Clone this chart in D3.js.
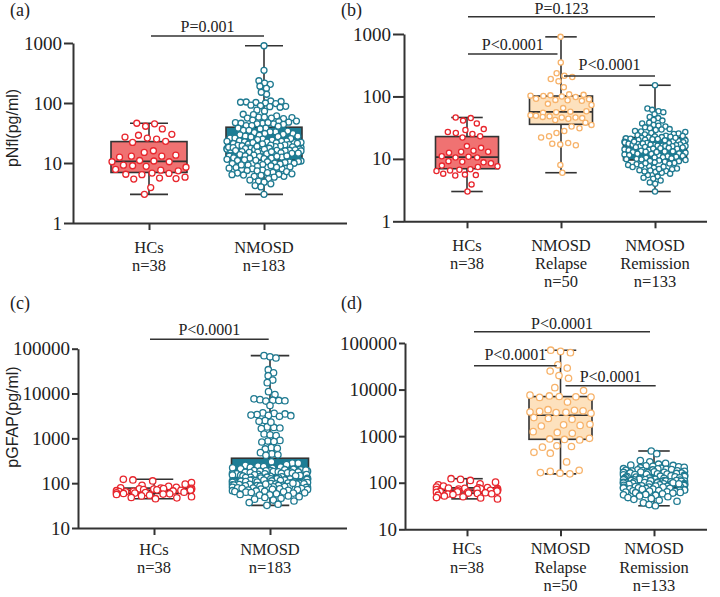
<!DOCTYPE html>
<html>
<head>
<meta charset="utf-8">
<script src="https://cdn.jsdelivr.net/npm/d3@7"></script>
<style>
  body { margin: 0; background: #fff; }
  svg { display: block; }
</style>
</head>
<body>
<div id="chart"></div>
<script>
// ---- data (pg/ml) ----
const nflHC = [46, 45, 41, 37, 30, 29, 27, 26, 25, 23, 22, 16, 15, 13.5, 13, 13, 12.5, 11, 10.8, 10.5,
  10.5, 9.2, 9, 8.8, 8.5, 7.8, 7.6, 7.4, 6.8, 6.7, 6.5, 6.4, 5.8, 5.6, 5.5, 5.4, 3.9, 3.0];

const nflRelapse = [900, 350, 235, 215, 205, 190, 175, 140, 108, 106, 104, 103, 102, 100, 98, 92, 90,
  88, 87, 85, 76, 73, 65, 58, 57, 56, 55, 50, 49, 48, 47, 46, 46, 45, 44, 42, 38, 35, 33, 31, 28, 26,
  23, 22, 18, 17.5, 17, 16.5, 8, 6];

const nflRemission = [151, 64, 61, 58, 56, 52, 47, 45, 42, 41, 38, 37, 35, 34, 33, 32, 31, 30, 29.5, 29,
  28, 27.5, 27, 26, 25.5, 25, 24.6, 24, 23.5, 23.2, 22.9, 22.6, 22.3,
  22, 21.6, 21.3, 21, 20.6, 20.3, 20, 19.7, 19.4, 19.1, 18.8, 18.5, 18.3, 18, 17.8, 17.5, 17.3, 17,
  16.8, 16.7, 16.5, 16.3, 16.1, 16, 15.9, 15.8, 21.8, 20.8, 19.8, 18.9, 17.6, 16.9, 16.2,
  15.5, 15.2, 15, 14.8, 14.5, 14.2, 14, 13.8, 13.5, 13.2, 13, 12.8, 12.5, 12.2, 12, 11.8, 11.5, 11.3,
  11, 10.8, 10.6, 10.4, 10.2, 10, 9.9, 9.8, 14.6, 13.1, 12.1, 11.1, 10.5, 15.4, 12.9,
  9.6, 9.4, 9.2, 9, 8.8, 8.6, 8.4, 8.2, 8, 7.8, 7.6, 7.4, 7.2, 7, 6.8, 6.6, 6.5, 6.4, 6.2, 6, 5.8,
  5.5, 5.2, 5, 4.8, 4.5, 4.2, 3.0, 9.3, 8.5, 7.5, 6.9, 6.3, 4.0];

const gfapHC = [122, 118, 112, 103, 95, 90, 85, 81, 79, 78, 77, 76, 75, 74, 73, 72, 71, 70, 69, 68,
  67, 66, 65, 64, 63, 62, 61, 60, 59, 58, 57, 56, 54, 52, 50, 48, 47, 45];

const gfapRelapse = [70000, 66000, 62000, 34000, 29000, 25000, 20000, 17500, 11000, 9500, 7600, 7300,
  7100, 7000, 6900, 6800, 5400, 3700, 3600, 3500, 3400, 3300, 3250, 3200, 3100, 2500, 2400, 1800,
  1750, 1700, 1650, 1250, 1200, 1150, 900, 870, 850, 830, 620, 600, 580, 450, 430, 280, 185, 175,
  165, 160, 155, 2300];

const gfapRemission = [480, 420, 300, 280, 260, 250, 240, 235, 230, 225, 220, 215, 210, 205, 200, 198,
  195, 192, 190, 188, 185, 182, 180, 178, 176, 174, 172, 170, 168, 166, 164, 162, 161,
  158, 156, 154, 152, 150, 148, 146, 144, 142, 140, 138, 136, 135, 134, 132, 130, 128, 126, 125, 124,
  122, 120, 119, 118, 117, 116, 115, 114, 113, 112, 111, 110.5, 110,
  109, 108, 107, 106, 105, 104, 103, 102, 101, 100, 99, 98, 97, 96, 95, 94, 93, 92, 91, 90, 89, 88,
  87, 86, 85, 84, 83, 82, 81, 80.5, 80, 100, 95,
  79, 78, 77, 76, 75, 74, 73, 72, 71, 70, 69, 68, 67, 66, 65, 64, 63, 62, 61, 60, 58, 56, 55, 54, 52,
  50, 48, 46, 44, 42, 40, 37, 34, 32];

const nflTicks = [1, 10, 100, 1000];
const gfapTicks = [10, 100, 1000, 10000, 100000];

const labels2 = [["HCs", "n=38"], ["NMOSD", "n=183"]];
const labels3 = [["HCs", "n=38"], ["NMOSD", "Relapse", "n=50"], ["NMOSD", "Remission", "n=133"]];

const compA = [{ pair: [0, 1], label: "P=0.001" }];
const compB = [{ pair: [0, 2], label: "P=0.123" }, { pair: [0, 1], label: "P<0.0001" }, { pair: [1, 2], label: "P<0.0001" }];
const compC = [{ pair: [0, 1], label: "P<0.0001" }];
const compD = [{ pair: [0, 2], label: "P<0.0001" }, { pair: [0, 1], label: "P<0.0001" }, { pair: [1, 2], label: "P<0.0001" }];

// ---- styles ----
const SERIF = "Liberation Serif, Times New Roman, serif";
const SANS = "Liberation Sans, Arial, sans-serif";
const INK = "#333";
const hcStyle = { fill: "#f07272", stroke: "#e8262d" };
const tealStyle = { fill: "#1c7d95", stroke: "#1f7a91" };
const relapseStyle = { fill: "#fde1bd", stroke: "#f7b36b" };

const svg = d3.select("#chart").append("svg")
  .attr("width", 720)
  .attr("height", 597);

svg.append("rect").attr("width", 720).attr("height", 597).attr("fill", "#fff");

// layout of each panel
let panels = [
  { letter: "(a)", lx: 10, ly: 16, title: "pNfl(pg/ml)", tx: 18, ty: 128,
    x0: 73, x1: 347, yTop: 43, yBot: 223, domain: [1, 1000], ticks: nflTicks, tickLen: 9,
    cx: [149, 264], boxW: 76, r: 3,
    groups: [nflHC, nflRelapse.concat(nflRemission)], styles: [hcStyle, tealStyle], labels: labels2,
    catY: 30, comps: compA, sig: [[36, 2, 0, 4.5]] },
  { letter: "(b)", lx: 341, ly: 16,
    x0: 404, x1: 707, yTop: 34, yBot: 221.3, domain: [1, 1000], ticks: nflTicks, tickLen: 11,
    cx: [467, 655], boxW: 63, r: 2.6,
    groups: [nflHC, nflRelapse, nflRemission], styles: [hcStyle, relapseStyle, tealStyle], labels: labels3,
    catY: 29.5, comps: compB, sig: [[16.7, 1, 0, 2.5], [54, 1, 3.5, 4.5], [76, 3, 0, 6]] },
  { letter: "(c)", lx: 10, ly: 309, title: "pGFAP(pg/ml)", tx: 18, ty: 417,
    x0: 78, x1: 347, yTop: 348.7, yBot: 528, domain: [10, 100000], ticks: gfapTicks, tickLen: 6,
    cx: [154, 270], boxW: 77, r: 3.2,
    groups: [gfapHC, gfapRelapse.concat(gfapRemission)], styles: [hcStyle, tealStyle], labels: labels2,
    catY: 27, comps: compC, sig: [[339.3, -4, 1.3, 4.5]] },
  { letter: "(d)", lx: 341, ly: 309,
    x0: 405, x1: 707, yTop: 343, yBot: 529.3, domain: [10, 100000], ticks: gfapTicks, tickLen: 6,
    cx: [467, 654], boxW: 63, r: 3.2,
    groups: [gfapHC, gfapRelapse, gfapRemission], styles: [hcStyle, relapseStyle, tealStyle], labels: labels3,
    catY: 25, comps: compD, sig: [[331.7, 7, 4, 3], [365.7, 7, 3.7, 6], [385.7, 5, -1.7, 4]] }
];

// spread the points sideways, y stays fixed at the value.
// small groups are spread wider, big groups overlap like the original
function swarm(values, cx, y, r, halfW) {
  let sparse = values.length <= 60;
  let nodes = values.map((v, i) => ({ v: v, x: cx + ((i % 5) - 2) * 0.5, y: y(v), fy: y(v) }));
  let sim = d3.forceSimulation(nodes)
    .force("x", d3.forceX(cx).strength(sparse ? 0.012 : 0.1))
    .force("collide", d3.forceCollide(r * (sparse ? 1.55 : 0.95)))
    .stop();
  for (let i = 0; i < 260; i++) {
    sim.tick();
    nodes.forEach(n => { n.x = Math.max(cx - halfW, Math.min(cx + halfW, n.x)); });
  }
  return nodes;
}

function drawPanel(p) {
  let g = svg.append("g");
  let n = p.groups.length;

  let y = d3.scaleLog().domain(p.domain).range([p.yBot, p.yTop]);
  let x = d3.scalePoint().domain(d3.range(n)).range(p.cx);

  // y axis
  g.append("g")
    .attr("transform", `translate(${p.x0},0)`)
    .call(d3.axisLeft(y).tickValues(p.ticks).tickFormat(d3.format("d"))
      .tickSize(p.tickLen).tickPadding(2).tickSizeOuter(0))
    .call(a => {
      a.select(".domain").attr("stroke", INK).attr("stroke-width", 2);
      a.selectAll(".tick line").attr("stroke", INK).attr("stroke-width", 2);
      a.selectAll(".tick text").attr("font-family", SERIF).attr("font-size", 19).attr("fill", "#222");
    });

  // x axis
  g.append("g")
    .attr("transform", `translate(0,${p.yBot})`)
    .call(d3.axisBottom(x).tickSize(7).tickFormat("").tickSizeOuter(0))
    .call(a => {
      a.select(".domain").attr("d", `M${p.x0},0.5H${p.x1}`).attr("stroke", INK).attr("stroke-width", 2);
      a.selectAll(".tick line").attr("stroke", INK).attr("stroke-width", 2);
    });

  // category labels, one text per line
  p.labels.forEach((lines, i) => {
    lines.forEach((s, j) => {
      g.append("text")
        .attr("x", x(i))
        .attr("y", p.yBot + p.catY + j * 18.3)
        .attr("text-anchor", "middle")
        .attr("font-family", SERIF)
        .attr("font-size", 16.5)
        .attr("fill", "#222")
        .text(s);
    });
  });

  // boxes
  p.groups.forEach((vals, i) => {
    let s = vals.slice().sort(d3.ascending);
    let q1 = d3.quantile(s, 0.25), med = d3.quantile(s, 0.5), q3 = d3.quantile(s, 0.75);
    let lo = s[0], hi = s[s.length - 1];
    let cx = x(i), w = p.boxW, st = p.styles[i];
    let bg = g.append("g");

    bg.append("line")
      .attr("x1", cx).attr("x2", cx).attr("y1", y(hi)).attr("y2", y(lo))
      .attr("stroke", INK).attr("stroke-width", 1.6);
    [lo, hi].forEach(v => {
      bg.append("line")
        .attr("x1", cx - w / 4).attr("x2", cx + w / 4).attr("y1", y(v)).attr("y2", y(v))
        .attr("stroke", INK).attr("stroke-width", 1.6);
    });
    bg.append("rect")
      .attr("x", cx - w / 2).attr("y", y(q3))
      .attr("width", w).attr("height", y(q1) - y(q3))
      .attr("fill", st.fill).attr("stroke", INK).attr("stroke-width", 1.6);
    bg.append("line")
      .attr("x1", cx - w / 2).attr("x2", cx + w / 2).attr("y1", y(med)).attr("y2", y(med))
      .attr("stroke", INK).attr("stroke-width", 1.6);

    // points
    let nodes = swarm(vals, cx, y, p.r, w / 2 - 1);
    g.append("g").selectAll("circle").data(nodes).join("circle")
      .attr("cx", d => d.x)
      .attr("cy", d => d.y)
      .attr("r", p.r)
      .attr("fill", "#fff")
      .attr("stroke", st.stroke)
      .attr("stroke-width", 1.3);
  });

  // significance bars
  p.comps.forEach((c, k) => {
    let [ly, insL, insR, gap] = p.sig[k];
    let xa = x(c.pair[0]) + insL, xb = x(c.pair[1]) - insR;
    g.append("line")
      .attr("x1", xa).attr("x2", xb).attr("y1", ly).attr("y2", ly)
      .attr("stroke", INK).attr("stroke-width", 1.5);
    g.append("text")
      .attr("x", (xa + xb) / 2)
      .attr("y", ly - gap)
      .attr("text-anchor", "middle")
      .attr("font-family", SERIF)
      .attr("font-size", 16)
      .attr("fill", "#222")
      .text(c.label);
  });

  // panel letter
  g.append("text")
    .attr("x", p.lx).attr("y", p.ly)
    .attr("font-family", SERIF).attr("font-size", 18).attr("fill", "#222")
    .text(p.letter);

  // y title
  if (p.title) {
    g.append("text")
      .attr("transform", `translate(${p.tx},${p.ty}) rotate(-90)`)
      .attr("text-anchor", "middle")
      .attr("font-family", SANS)
      .attr("font-size", 16)
      .attr("fill", "#222")
      .text(p.title);
  }
}

panels.forEach(drawPanel);
</script>
</body>
</html>
